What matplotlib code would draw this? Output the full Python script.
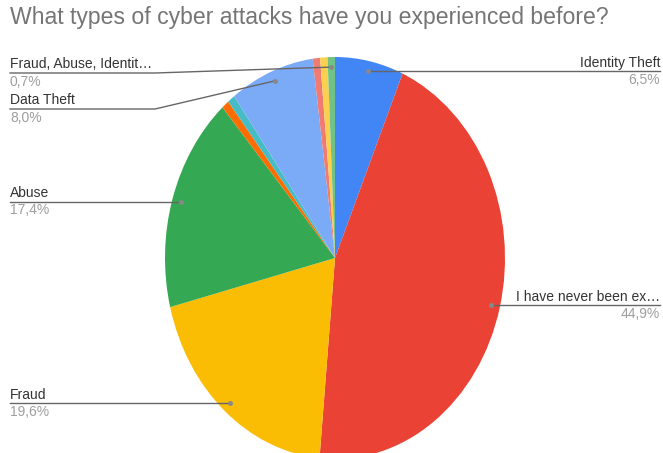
import numpy as np
import matplotlib
matplotlib.use("Agg")
import matplotlib.pyplot as plt

plt.rcParams["font.family"] = ["Liberation Sans", "DejaVu Sans"]

TITLE = "What types of cyber attacks have you experienced before?"
labels = ["Identity Theft", "I have never been ex\u2026", "Fraud", "Abuse", "", "",
          "Data Theft", "", "", "Fraud, Abuse, Identit\u2026"]
values = [6.5, 44.9, 19.6, 17.4, 0.7, 0.7, 8.0, 0.7, 0.7, 0.7]
colors = ["#4285F4", "#EA4335", "#FBBC04", "#34A853", "#FF6D01", "#46BDC6",
          "#7BAAF7", "#F07B72", "#FCD04F", "#71C287"]
# which side of the chart each visible label sits on
sides = ["right", "right", "left", "left", None, None, "left", None, None, "left"]

W, H = 663, 453
CX, CY = 335, 258      # pie centre in pixels
RX, RY = 170, 201      # horizontal / vertical radius in pixels

fig = plt.figure(figsize=(W / 100, H / 100), dpi=100)

# pie axes placed so one data unit maps to RX / RY pixels
pax = fig.add_axes([(CX - RX) / W, (H - CY - RY) / H, 2 * RX / W, 2 * RY / H])
wedges, _ = pax.pie(values, colors=colors, startangle=90, counterclock=False,
                    wedgeprops=dict(linewidth=0))
pax.set_aspect("auto")
pax.set_xlim(-1, 1)
pax.set_ylim(-1, 1)

# overlay in pixel coordinates for title, labels and leader lines
ov = fig.add_axes([0, 0, 1, 1], zorder=5)
ov.set_xlim(0, W)
ov.set_ylim(H, 0)
ov.axis("off")
ov.patch.set_alpha(0)

ov.text(10, 6, TITLE, fontsize=16.6, color="#757575", va="top", ha="left")

total = sum(values)
elbows = {"Fraud, Abuse, Identit\u2026": (155, 73), "Data Theft": (155, 109)}
start = 0.0
for lab, v, side in zip(labels, values, sides):
    mid = (start + v / 2) / total * 2 * np.pi
    start += v
    if not lab:
        continue
    ax_x = CX + 0.95 * RX * np.sin(mid)
    ax_y = CY - 0.95 * RY * np.cos(mid)
    pct = f"{v:.1f}%".replace(".", ",")
    if lab in elbows:
        ex, ey = elbows[lab]
        ov.plot([ax_x, ex, 10], [ax_y, ey, ey], color="#666666", lw=1)
        ly = ey
    else:
        ly = ax_y
        end = 660 if side == "right" else 10
        ov.plot([ax_x, end], [ly, ly], color="#666666", lw=1)
    ov.plot(ax_x, ax_y, "o", ms=2.5, color="#888888")
    if side == "right":
        tx, ha = 660, "right"
    else:
        tx, ha = 10, "left"
    ov.text(tx, ly - 1.5, lab, fontsize=10, color="#333333", ha=ha, va="bottom")
    ov.text(tx, ly + 1.5, pct, fontsize=10, color="#9E9E9E", ha=ha, va="top")

fig.savefig("out.png", dpi=100)
